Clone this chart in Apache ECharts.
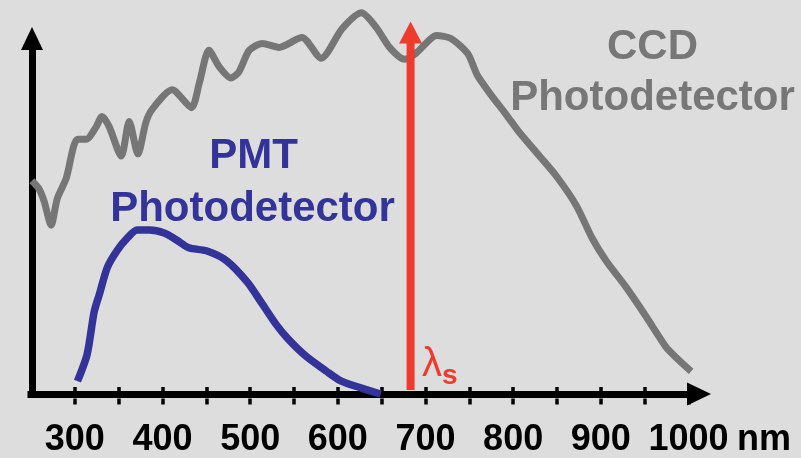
<!DOCTYPE html>
<html>
<head>
<meta charset="utf-8">
<style>
    html, body { margin: 0; padding: 0; background: #dddddd; }
    #main { width: 801px; height: 458px; }
</style>
</head>
<body>
<div id="main"></div>
<script src="https://cdn.jsdelivr.net/npm/echarts@6/dist/echarts.min.js"></script>
<script>
    // CCD response, wavelength in nm / relative response
    var ccdNm = [251, 259, 265, 273, 280, 290, 303, 313, 324, 331, 339, 353, 362, 372, 381, 388, 411, 433, 442, 453,
        465, 478, 487, 499, 514, 533, 559, 581, 605, 627, 644, 659, 676, 689, 713, 729, 748, 759, 773, 792,
        807, 830, 849, 872, 890, 906, 929, 952, 974, 987, 1003];
    var ccdVal = [216, 208, 195, 171, 198, 218, 258, 258, 270, 281, 271, 241, 276, 243, 275, 288, 308, 290, 315, 348,
        331, 320, 326, 348, 355, 351, 361, 340, 370, 386, 371, 351, 339, 345, 363, 360, 345, 323, 305, 283,
        265, 241, 221, 191, 158, 135, 108, 78, 48, 36, 23];

    // PMT response
    var pmtNm = [303, 314, 322, 328, 337, 348, 360, 371, 385, 402, 416, 430, 450, 473, 497, 514, 530, 544, 564, 587,
        604, 627, 649];
    var pmtVal = [13, 40, 83, 101, 128, 145, 158, 166, 166, 163, 156, 148, 145, 135, 113, 91, 70, 55, 38, 23,
        13, 6, 0];

    // source line
    var lambdaS = 683;
    var arrowVal = [4, 366];

    // axis
    var xMin = 250, xMax = 1012, yMax = 360;
    var tickValues = [300, 350, 400, 450, 500, 550, 600, 650, 700, 750, 800, 850, 900, 950, 1000];
    var labelValues = [300, 400, 500, 600, 700, 800, 900, 1000];

    var font = '"Liberation Sans", Arial, sans-serif';
    var grey = '#767676', blue = '#333399', red = '#ee3b2d';

    function pairs(xs, ys) {
        return xs.map(function (x, i) { return [x, ys[i]]; });
    }

    var gridBox = {left: 31, right: 102, top: 38.5, bottom: 59.5};

    var chart = echarts.init(document.getElementById('main'));
    chart.setOption({
        backgroundColor: '#dddddd',
        animation: false,
        grid: [gridBox, gridBox],
        xAxis: [{
            type: 'value',
            min: xMin,
            max: xMax,
            interval: 50,
            axisLine: {
                show: true,
                onZero: false,
                symbol: ['none', 'triangle'],
                symbolSize: [23, 24],
                lineStyle: {color: '#000', width: 7, cap: 'square'}
            },
            axisTick: {
                show: true,
                inside: true,
                length: 7,
                customValues: tickValues,
                lineStyle: {color: '#000', width: 3.5}
            },
            axisLabel: {
                customValues: labelValues,
                margin: 28,
                color: '#000',
                fontSize: 36,
                fontWeight: 'bold',
                fontFamily: font,
                formatter: function (v) { return v % 100 === 0 ? String(v) : ''; }
            },
            splitLine: {show: false},
            name: 'nm',
            nameLocation: 'end',
            nameGap: 38,
            nameTextStyle: {
                color: '#000',
                fontSize: 36,
                fontWeight: 'bold',
                fontFamily: font,
                align: 'left',
                verticalAlign: 'top',
                padding: [28, 0, 0, 0]
            }
        }, {
            // second set of ticks below the line
            gridIndex: 1,
            type: 'value',
            min: xMin,
            max: xMax,
            interval: 50,
            axisLine: {show: false, onZero: false},
            axisTick: {
                show: true,
                inside: false,
                length: 6,
                customValues: tickValues,
                lineStyle: {color: '#000', width: 3.5}
            },
            axisLabel: {show: false},
            splitLine: {show: false}
        }],
        yAxis: [{
            type: 'value',
            min: 0,
            max: yMax,
            offset: -1,
            axisLine: {
                show: true,
                onZero: false,
                symbol: ['none', 'triangle'],
                symbolSize: [22, 23],
                lineStyle: {color: '#000', width: 7, cap: 'square'}
            },
            axisTick: {show: false},
            axisLabel: {show: false},
            splitLine: {show: false}
        }, {
            gridIndex: 1,
            type: 'value',
            min: 0,
            max: yMax,
            show: false
        }],
        series: [{
            name: 'CCD',
            type: 'line',
            data: pairs(ccdNm, ccdVal),
            smooth: 0.25,
            symbol: 'none',
            clip: false,
            lineStyle: {color: grey, width: 7}
        }, {
            name: 'PMT',
            type: 'line',
            data: pairs(pmtNm, pmtVal),
            smooth: 0.25,
            symbol: 'none',
            clip: false,
            lineStyle: {color: blue, width: 7.5}
        }, {
            name: 'source',
            type: 'line',
            showSymbol: true,
            data: [
                {value: [lambdaS, arrowVal[0]], symbol: 'none'},
                {value: [lambdaS, arrowVal[1]], symbol: 'triangle', symbolSize: [23, 22]}
            ],
            clip: false,
            lineStyle: {color: red, width: 8},
            itemStyle: {color: red}
        }],
        graphic: [
            {type: 'text', x: 253.5, y: 156, style: {text: 'PMT', fill: blue, fontSize: 42, fontWeight: 'bold', fontFamily: font, align: 'center', verticalAlign: 'middle'}},
            {type: 'text', x: 252.5, y: 209, style: {text: 'Photodetector', fill: blue, fontSize: 42, fontWeight: 'bold', fontFamily: font, align: 'center', verticalAlign: 'middle'}},
            {type: 'text', x: 652.5, y: 47, style: {text: 'CCD', fill: '#777777', fontSize: 42, fontWeight: 'bold', fontFamily: font, align: 'center', verticalAlign: 'middle'}},
            {type: 'text', x: 652.5, y: 98.5, style: {text: 'Photodetector', fill: '#777777', fontSize: 42, fontWeight: 'bold', fontFamily: font, align: 'center', verticalAlign: 'middle'}},
            {type: 'text', x: 422, y: 384.6, style: {text: 'λ', fill: red, fontSize: 40, fontFamily: font, align: 'left', verticalAlign: 'bottom'}},
            {type: 'text', x: 442, y: 390.3, style: {text: 's', fill: red, fontSize: 28, fontWeight: 'bold', fontFamily: font, align: 'left', verticalAlign: 'bottom'}}
        ]
    });
</script>
</body>
</html>
